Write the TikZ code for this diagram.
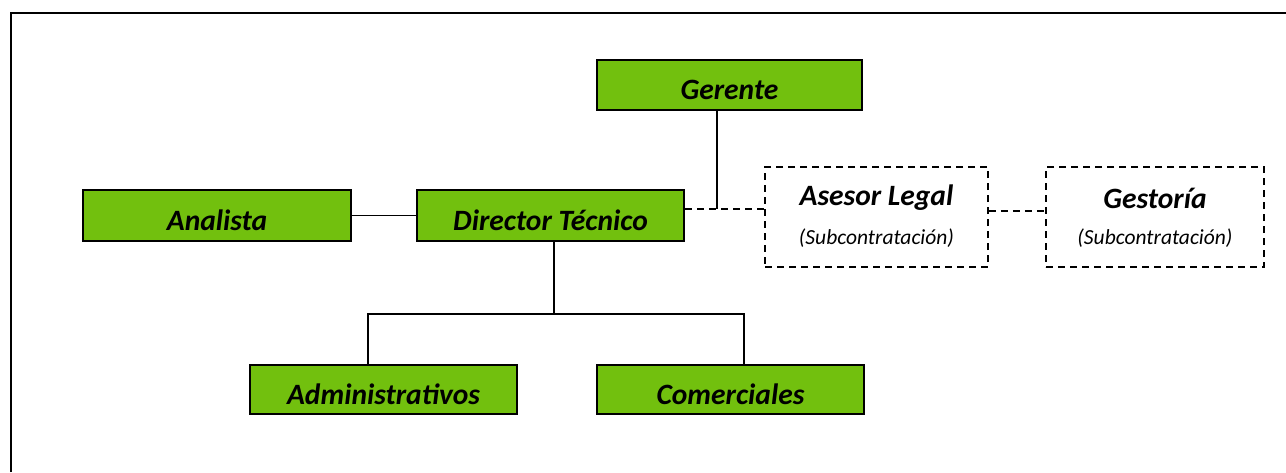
\documentclass[tikz,border=0pt]{standalone}
\usepackage{fontspec}
\setmainfont{Carlito}
\definecolor{boxgreen}{HTML}{72C00E}
\tikzset{
  greenbox/.style={draw=black, line width=2pt, fill=boxgreen, inner sep=0pt,
    text height=29pt, text depth=0pt,
    font=\fontsize{29.5}{34}\selectfont\bfseries\itshape},
  dashbox/.style={draw=black, line width=1.6pt, dash pattern=on 7pt off 5pt, inner sep=0pt,
    align=center},
  conn/.style={draw=black, line width=1.8pt},
  dconn/.style={draw=black, line width=1.6pt, dash pattern=on 7pt off 5pt},
  titlefont/.style={font=\fontsize{29.5}{34}\selectfont\bfseries\itshape},
  subfont/.style={font=\fontsize{21.5}{25}\selectfont\itshape},
}
\begin{document}
\begin{tikzpicture}[x=1pt,y=-1pt]
\useasboundingbox (0,0) rectangle (1286,472);
\draw[line width=1.5pt] (11,472) -- (11,13) -- (1286,13);

\node[greenbox, minimum width=265pt, minimum height=50pt] (ger) at (729.5,85) {Gerente};
\node[greenbox, minimum width=267pt, minimum height=51pt] (dir) at (550.5,215.5) {Director Técnico};
\node[greenbox, minimum width=268pt, minimum height=51pt] (ana) at (217,215.5) {Analista};
\node[greenbox, minimum width=267pt, minimum height=49pt] (adm) at (383.5,389.5) {Administrativos};
\node[greenbox, minimum width=267pt, minimum height=49pt] (com) at (730.5,389.5) {Comerciales};

\node[dashbox, minimum width=223pt, minimum height=100pt] (ase) at (876.5,217) {};
\node[titlefont] (aset) at (876.5,198) {Asesor Legal};
\node[subfont] (ases) at (876.5,238) {(Subcontratación)};

\node[dashbox, minimum width=218pt, minimum height=100pt] (ges) at (1155,217) {};
\node[titlefont] (gest) at (1155,198) {Gestoría};
\node[subfont] (gess) at (1155,238) {(Subcontratación)};

\coordinate (j1) at (717,209);
\coordinate (j2) at (554,314);
\coordinate (j3) at (368,314);
\coordinate (j4) at (744,314);
\coordinate (j5) at (0,211);

\draw[conn] (ana.east) -- (dir.west);
\draw[conn] (j1 |- ger.south) -- (j1);
\draw[dconn] (dir.east |- j1) -- (ase.west |- j1);
\draw[dconn] (ase.east |- j5) -- (ges.west |- j5);
\draw[conn] (j2 |- dir.south) -- (j2);
\draw[conn] (j3 |- adm.north) -- (j3) -- (j4) -- (j4 |- com.north);
\end{tikzpicture}
\end{document}
